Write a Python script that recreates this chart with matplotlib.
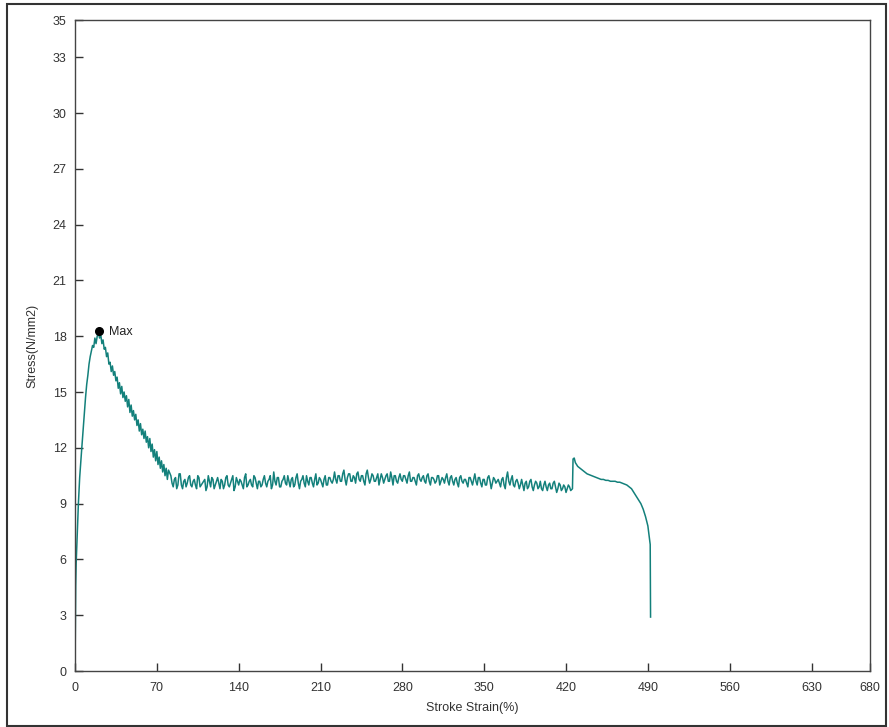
import numpy as np
import matplotlib
matplotlib.use("Agg")
import matplotlib.pyplot as plt
from matplotlib.patches import Rectangle

plt.rcParams['font.family'] = ['Liberation Sans', 'DejaVu Sans']

# rising part of the curve
x_rise = [0, 0.3, 0.6, 1.0, 1.4, 2.0, 2.9, 4.0, 5.0, 5.7, 7.0, 8.0, 9.0, 10.0,
          11.0, 12.0, 13.0, 14.3, 15.0, 16.0, 17.0, 18.0, 19.0, 20.0]
y_rise = [0, 2.5, 4.6, 5.8, 6.5, 7.6, 9.0, 10.4, 11.3, 11.9, 13.0, 13.9, 14.7, 15.4,
          15.9, 16.5, 16.9, 17.3, 17.5, 17.4, 17.9, 17.6, 18.0, 18.2]

# descent after the peak (1 % steps)
x_desc = list(range(21, 81))
y_desc = [17.9, 18.1, 17.6, 17.8, 17.3, 17.4, 16.9, 17.1, 16.5, 16.6,
          16.1, 16.4, 15.9, 16.1, 15.6, 15.8, 15.2, 15.5, 14.9, 15.3,
          14.7, 15.0, 14.5, 14.8, 14.2, 14.6, 13.9, 14.3, 13.7, 14.0,
          13.5, 13.8, 13.2, 13.5, 12.9, 13.3, 12.7, 13.0, 12.5, 12.9,
          12.3, 12.6, 12.0, 12.5, 11.8, 12.2, 11.5, 11.9, 11.3, 11.8,
          11.1, 11.5, 10.9, 11.3, 10.7, 11.1, 10.5, 10.9, 10.3, 10.8]

# plateau, even strains 82..424
x_plat_even = np.arange(82, 425, 2)
y_plat_even = [10.5, 9.9, 10.4, 10.0, 10.6, 9.8, 10.3, 10.1, 10.5, 9.9,
               10.3, 9.8, 10.4, 10.0, 10.2, 9.7, 10.5, 9.9, 10.3, 10.0,
               10.4, 9.8, 10.2, 10.0, 10.5, 9.9, 10.3, 9.7, 10.4, 10.0,
               10.2, 9.8, 10.6, 10.0, 10.3, 9.9, 10.4, 9.8, 10.2, 10.0,
               10.5, 9.9, 10.3, 9.8, 10.7, 10.0, 10.4, 9.9, 10.3, 10.1,
               10.5, 9.9, 10.4, 10.0, 10.6, 9.8, 10.3, 10.1, 10.5, 10.0,
               10.4, 9.9, 10.6, 10.1, 10.3, 9.9, 10.5, 10.0, 10.4, 10.1,
               10.7, 10.1, 10.5, 10.2, 10.8, 10.0, 10.6, 10.2, 10.5, 10.1,
               10.7, 10.2, 10.5, 10.0, 10.8, 10.1, 10.6, 10.2, 10.4, 10.0,
               10.6, 10.1, 10.5, 10.2, 10.7, 10.0, 10.5, 10.1, 10.6, 10.2,
               10.5, 10.1, 10.7, 10.2, 10.4, 10.0, 10.6, 10.2, 10.5, 10.1,
               10.6, 10.0, 10.4, 10.1, 10.5, 10.0, 10.4, 10.1, 10.6, 10.0,
               10.5, 10.0, 10.4, 9.9, 10.5, 10.1, 10.3, 9.9, 10.4, 10.0,
               10.6, 10.0, 10.4, 9.9, 10.3, 10.0, 10.5, 9.8, 10.4, 10.1,
               10.3, 9.9, 10.4, 9.8, 10.7, 10.0, 10.5, 9.9, 10.3, 9.8,
               10.3, 9.7, 10.2, 9.9, 10.3, 9.7, 10.2, 9.8, 10.2, 9.7,
               10.2, 9.7, 10.1, 9.8, 10.2, 9.6, 10.1, 9.7, 10.0, 9.6,
               10.0, 9.7]

# plateau, odd strains 83..423
x_plat_odd = np.arange(83, 424, 2)
y_plat_odd = [10.1, 10.3, 9.8, 10.6, 10.0, 10.2, 9.9, 10.4, 10.0, 10.2,
              10.0, 10.5, 9.9, 10.1, 10.3, 9.9, 10.2, 10.4, 9.8, 10.2,
              10.1, 10.3, 9.8, 10.4, 10.0, 10.1, 10.5, 9.9, 10.2, 10.3,
              10.0, 10.4, 9.9, 10.2, 10.0, 10.5, 10.1, 10.2, 9.9, 10.3,
              10.1, 10.2, 10.5, 10.0, 10.2, 10.4, 9.9, 10.2, 10.5, 10.0,
              10.2, 10.3, 9.9, 10.4, 10.1, 10.2, 10.5, 9.9, 10.2, 10.4,
              10.1, 10.3, 10.0, 10.4, 10.1, 10.3, 10.0, 10.4, 10.2, 10.3,
              10.3, 10.5, 10.2, 10.6, 10.3, 10.4, 10.6, 10.2, 10.4, 10.6,
              10.3, 10.5, 10.2, 10.6, 10.4, 10.3, 10.5, 10.2, 10.6, 10.3,
              10.4, 10.3, 10.6, 10.2, 10.4, 10.5, 10.2, 10.4, 10.3, 10.5,
              10.3, 10.5, 10.2, 10.4, 10.2, 10.5, 10.3, 10.4, 10.2, 10.5,
              10.2, 10.4, 10.3, 10.2, 10.5, 10.2, 10.3, 10.4, 10.2, 10.4,
              10.2, 10.3, 10.1, 10.4, 10.2, 10.3, 10.1, 10.4, 10.2, 10.3,
              10.2, 10.4, 10.1, 10.3, 10.0, 10.4, 10.2, 10.1, 10.3, 10.2,
              10.1, 10.3, 10.0, 10.4, 10.2, 10.3, 10.0, 10.2, 10.1, 10.0,
              10.0, 10.1, 9.8, 10.2, 9.9, 10.0, 10.1, 9.9, 9.8, 10.0,
              9.9, 10.0, 9.8, 10.1, 9.9, 9.8, 10.0, 9.8, 9.9, 9.8,
              9.9]

# jump, slow decay and break
x_tail = [425.5, 426.0, 427.0, 428, 430, 432, 434, 436, 438, 440, 442, 444, 446,
          448, 450, 452, 454, 456, 458, 460, 462, 464, 466, 468, 470, 472, 474,
          476, 478, 480, 482, 484, 486, 488, 490, 491, 492, 492.3]
y_tail = [9.8, 11.4, 11.45, 11.2, 11.0, 10.9, 10.8, 10.7, 10.6, 10.55, 10.5, 10.45,
          10.4, 10.35, 10.3, 10.3, 10.25, 10.25, 10.2, 10.2, 10.2, 10.15, 10.15,
          10.1, 10.05, 10.0, 9.9, 9.8, 9.6, 9.4, 9.2, 9.0, 8.7, 8.3, 7.8, 7.3,
          6.8, 2.9]

max_x, max_y = 20.8, 18.3

x_ticks = [0, 70, 140, 210, 280, 350, 420, 490, 560, 630, 680]
y_ticks = [0, 3, 6, 9, 12, 15, 18, 21, 24, 27, 30, 33, 35]

x = np.concatenate([x_rise, x_desc, x_plat_even, x_plat_odd, x_tail])
y = np.concatenate([y_rise, y_desc, y_plat_even, y_plat_odd, y_tail])
order = np.argsort(x, kind='stable')
x, y = x[order], y[order]

fig = plt.figure(figsize=(8.89, 7.27), dpi=100)
ax = fig.add_axes([75/889, 56/727, 795/889, 651/727])

ax.plot(x, y, color='#13807b', lw=1.1)
ax.plot([max_x], [max_y], 'o', color='black', ms=5.5)
ax.annotate('Max', (max_x, max_y), xytext=(7, -3), textcoords='offset points',
            fontsize=9, color='#222222')

ax.set_xlim(0, 680)
ax.set_ylim(0, 35)
ax.set_xticks(x_ticks)
ax.set_yticks(y_ticks)
ax.tick_params(direction='in', length=6, width=1, colors='#333333',
               labelsize=9, labelcolor='#333333')
ax.tick_params(axis='x', pad=8)
ax.tick_params(axis='y', pad=6)
for s in ax.spines.values():
    s.set_color('#444444')
    s.set_linewidth(1)

ax.set_xlabel('Stroke Strain(%)', fontsize=9, color='#333333', labelpad=6)
ax.set_ylabel('Stress(N/mm2)', fontsize=9, color='#333333', labelpad=10)

fig.patches.append(Rectangle((7/889, 1/727), 879/889, 722/727, transform=fig.transFigure,
                             fill=False, edgecolor='#333333', lw=1.5))

fig.savefig('out.png', dpi=100)
